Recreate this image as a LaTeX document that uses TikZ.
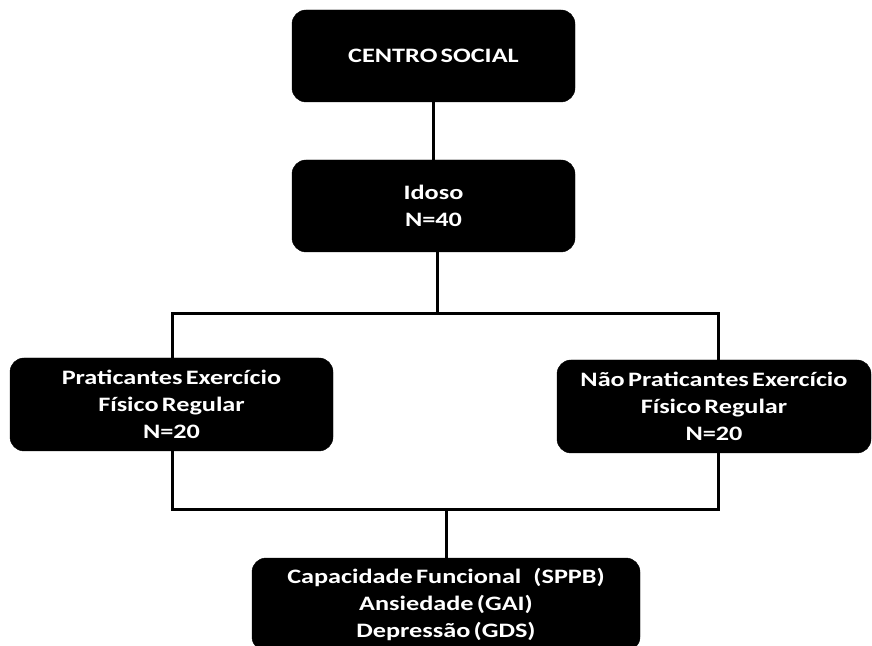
\documentclass[tikz,border=0pt]{standalone}
\usepackage{fontspec}
\setmainfont[FakeStretch=1.28, WordSpace=0.55]{Carlito}
\usepackage{tikz}
\usetikzlibrary{positioning}
\usetikzlibrary{arrows}
\tikzstyle{caixa} = [draw=black, fill=black, rounded corners=14pt, text=white,
font=\fontsize{20.5}{27}\selectfont\bfseries, align=center, inner sep=0pt]
\tikzstyle{line} = [draw, line width=3pt]

\begin{document}
\begin{tikzpicture}[x=1pt, y=1pt,
        ligacao/.style={line, -}]
        \useasboundingbox (0,0) rectangle (872,645);
        %% Caixas
        \node [caixa, minimum width=283pt, minimum height=92pt] at (433.5,589) (centro) {CENTRO SOCIAL};
        \node [caixa, minimum width=283pt, minimum height=92pt] at (433.5,439) (idoso) {Idoso\\N=40};
        \node [caixa, minimum width=323pt, minimum height=93pt] at (171.5,240.5) (praticantes) {Praticantes Exercício\\Físico Regular\\N=20};
        \node [caixa, minimum width=314pt, minimum height=93pt] at (714,238.5) (naopraticantes) {Não Praticantes Exercício\\Físico Regular\\N=20};
        \node [caixa, minimum width=388pt, minimum height=93pt] at (446,40.5) (medidas) {Capacidade Funcional\hspace{12pt}(SPPB)\\Ansiedade (GAI)\\Depressão (GDS)};
        %% Pontos de juncao
        \coordinate (divisao) at (437,331);
        \coordinate (uniao) at (446,135);
        %% Ligacoes
        \path [ligacao] (centro) -- (idoso);
        \path [ligacao] (idoso.south -| divisao) -- (divisao);
        \path [ligacao] ([xshift=0.5pt]praticantes.north) |- (divisao) -| ([xshift=4pt]naopraticantes.north);
        \path [ligacao] ([xshift=0.5pt]praticantes.south) |- (uniao) -| ([xshift=4pt]naopraticantes.south);
        \path [ligacao] (uniao) -- (medidas.north);
    \end{tikzpicture}
\end{document}
